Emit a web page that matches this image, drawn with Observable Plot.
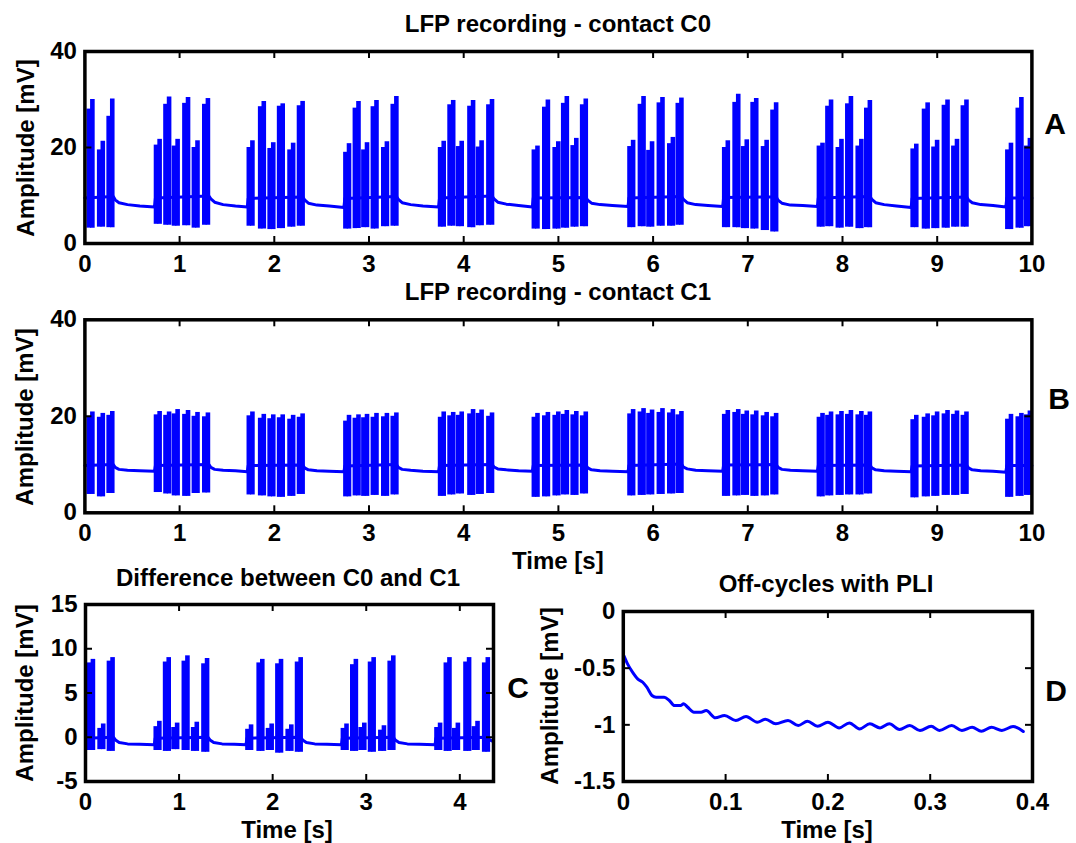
<!DOCTYPE html>
<html><head><meta charset="utf-8">
<script src="https://cdn.jsdelivr.net/npm/d3@7"></script>
<script src="https://cdn.jsdelivr.net/npm/@observablehq/plot@0.6"></script>
<style>
html,body{margin:0;padding:0;background:#fff;}
#page{position:relative;width:1076px;height:843px;overflow:hidden;background:#fff;font-family:"Liberation Sans",Arial,sans-serif;font-weight:bold;color:#000;}
.panel{position:absolute;}
.txt{position:absolute;white-space:nowrap;text-align:center;}
</style></head><body><div id="page"></div>
<script>
// ---------- data ----------
// centre time (s) of each spike group (bursts of 6 groups, first and last burst truncated)
const groupTime = [0.06,0.17,0.27,
 0.77,0.87,0.96,1.07,1.17,1.28,
 1.75,1.87,1.97,2.07,2.18,2.28,
 2.77,2.87,2.96,3.06,3.17,3.27,
 3.77,3.87,3.96,4.08,4.17,4.28,
 4.76,4.87,4.98,5.07,5.17,5.27,
 5.77,5.88,5.97,6.08,6.19,6.28,
 6.77,6.88,6.97,7.07,7.18,7.28,
 7.77,7.86,7.97,8.07,8.18,8.27,
 8.76,8.88,8.98,9.09,9.19,9.29,
 9.76,9.87,9.96];

// contact C0: first / second peak of each doublet and trough (mV)
const c0PeakFirst = [28.0,19.5,26.5,
 20.5,29.0,20.3,29.2,20.0,29.0,
 20.0,28.5,19.8,28.6,19.5,28.7,
 19.0,28.2,19.5,28.5,20.0,29.0,
 20.0,28.9,20.2,28.6,20.1,28.9,
 19.5,28.4,20.0,29.2,20.4,28.9,
 20.2,29.0,19.4,29.3,20.8,29.2,
 20.0,29.4,20.2,29.4,20.2,27.8,
 20.3,28.6,20.0,29.1,20.3,28.2,
 19.7,28.0,20.1,28.8,20.3,28.7,
 19.5,28.2,20.3];
const c0PeakSecond = [30.0,21.3,30.1,
 21.7,30.5,21.7,30.4,21.4,30.2,
 21.4,29.6,21.0,29.1,20.9,29.6,
 20.8,29.6,21.0,29.8,21.2,30.6,
 21.3,29.8,21.3,29.8,21.4,30.0,
 20.3,29.9,21.2,30.6,21.9,30.1,
 21.5,30.6,21.2,30.4,22.1,30.3,
 21.4,31.1,21.6,30.2,21.5,29.3,
 20.9,29.9,21.7,30.6,21.7,29.8,
 20.7,29.3,21.5,29.9,21.7,29.9,
 20.9,30.4,21.9];
const c0Trough = [3.2,3.4,3.3,
 4.0,3.8,3.6,3.7,3.2,3.8,
 3.6,3.0,2.9,3.1,3.4,3.6,
 3.0,3.1,3.3,3.0,3.5,3.6,
 3.4,3.6,3.5,3.3,3.7,3.8,
 3.0,2.9,3.0,3.2,3.4,3.5,
 3.3,3.5,3.4,3.6,3.6,3.8,
 3.3,3.3,3.1,3.0,2.7,2.4,
 3.4,3.5,3.2,3.4,3.1,3.3,
 3.3,3.0,3.1,3.2,3.4,3.4,
 2.9,3.2,3.5];
// contact C0 slow trace (time s, value mV)
const c0BaseTime = [0,0.30,0.32,0.36,0.45,0.58,0.735,0.745,
 1.31,1.33,1.37,1.46,1.59,1.715,1.725,
 2.30,2.32,2.36,2.45,2.58,2.735,2.745,
 3.29,3.31,3.35,3.44,3.57,3.735,3.745,
 4.30,4.32,4.36,4.45,4.58,4.725,4.735,
 5.29,5.31,5.35,5.44,5.57,5.735,5.745,
 6.30,6.32,6.36,6.45,6.58,6.735,6.745,
 7.30,7.32,7.36,7.45,7.58,7.735,7.745,
 8.29,8.31,8.35,8.44,8.57,8.725,8.735,
 9.31,9.33,9.37,9.46,9.59,9.725,9.735,10];
const c0BaseValue = [9.5,9.8,9.1,8.5,8.1,7.8,7.6,9.5,
 9.9,9.3,8.6,8.1,7.8,7.6,9.4,
 9.7,9.1,8.4,8.0,7.8,7.5,9.4,
 9.8,9.2,8.5,8.1,7.8,7.6,9.5,
 9.9,9.3,8.6,8.2,7.9,7.6,9.5,
 9.6,9.0,8.4,8.1,7.9,7.7,9.5,
 9.8,9.2,8.5,8.1,7.9,7.7,9.6,
 9.7,9.0,8.4,8.0,7.9,7.7,9.5,
 9.8,9.2,8.5,8.1,7.8,7.5,9.4,
 9.7,9.1,8.5,8.1,7.9,7.6,9.5,9.5];

// contact C1
const c1PeakFirst = [20.0,19.8,20.2,
 20.3,20.2,20.5,20.4,20.0,19.9,
 20.1,19.6,19.5,19.7,19.4,19.8,
 19.0,19.6,19.7,19.8,19.9,20.0,
 19.8,20.1,20.2,20.5,20.6,20.0,
 19.8,20.1,20.2,20.4,20.3,20.1,
 20.5,20.9,20.6,20.8,20.7,20.3,
 20.4,20.8,20.4,20.3,20.1,19.9,
 19.8,20.2,20.3,20.4,20.3,20.2,
 19.3,19.8,20.1,20.5,20.4,20.2,
 19.4,19.9,20.3];
const c1PeakSecond = [20.9,20.6,21.0,
 21.0,20.9,21.4,21.2,20.8,20.7,
 20.9,20.4,20.3,20.3,20.2,20.5,
 20.2,20.3,20.4,20.6,20.6,20.7,
 20.9,20.8,20.9,21.4,21.3,20.7,
 20.6,20.8,20.9,21.2,21.0,20.9,
 21.4,21.6,21.3,21.6,21.4,21.0,
 21.2,21.4,21.1,21.1,20.8,20.6,
 20.6,20.9,21.0,21.2,21.0,20.9,
 20.2,20.5,20.9,21.2,21.1,20.9,
 20.4,20.6,21.1];
const c1Trough = [3.8,3.3,4.0,
 4.2,3.9,3.5,3.4,4.0,4.1,
 3.7,3.5,3.3,3.2,3.4,3.8,
 3.3,3.5,3.4,3.6,3.4,3.7,
 3.4,3.7,3.9,3.6,3.8,4.0,
 3.2,3.3,3.5,3.7,3.6,3.9,
 3.5,3.6,3.7,3.8,3.9,4.0,
 3.4,3.5,3.6,3.4,3.5,3.7,
 3.3,3.5,3.6,3.7,3.7,3.9,
 3.1,3.3,3.4,3.6,3.6,3.8,
 3.2,3.4,3.6];
const c1BaseValue = [9.8,10.0,9.4,9.0,8.8,8.7,8.6,9.8,
 10.0,9.4,9.0,8.8,8.7,8.5,9.8,
 9.9,9.3,8.9,8.7,8.6,8.5,9.7,
 10.0,9.4,9.0,8.8,8.6,8.5,9.8,
 10.0,9.5,9.1,8.9,8.7,8.6,9.8,
 9.9,9.3,8.9,8.7,8.6,8.5,9.8,
 10.1,9.5,9.1,8.8,8.7,8.6,9.9,
 10.0,9.4,9.0,8.8,8.7,8.6,9.8,
 9.9,9.3,8.9,8.7,8.6,8.5,9.7,
 9.9,9.3,8.9,8.7,8.6,8.4,9.8,9.8];

// difference C0 - C1 (first 27 groups, 0 - 4.36 s)
const diffPeakFirst = [8.4,1.0,8.6, 1.2,8.5,1.1,8.6,1.1,8.3, 0.9,8.4,1.0,8.3,0.9,8.5,
 1.0,8.2,1.1,8.5,0.8,8.6, 1.1,8.4,1.0,8.5,1.2,8.4];
const diffPeakSecond = [8.8,1.5,9.0, 1.8,9.0,1.6,9.2,1.7,8.9, 1.4,8.8,1.5,8.8,1.4,9.0,
 1.5,8.8,1.6,9.0,1.3,9.2, 1.6,9.0,1.6,9.0,1.8,9.0];
const diffTrough = [-1.5,-1.4,-1.6, -1.5,-1.6,-1.4,-1.5,-1.6,-1.7, -1.5,-1.6,-1.5,-1.8,-1.6,-1.7,
 -1.5,-1.6,-1.5,-1.7,-1.6,-1.5, -1.5,-1.6,-1.5,-1.6,-1.5,-1.7];
const diffBaseTime = [0,0.30,0.32,0.36,0.45,0.58,0.735,0.745,
 1.31,1.33,1.37,1.46,1.59,1.715,1.725,
 2.30,2.32,2.36,2.45,2.58,2.735,2.745,
 3.29,3.31,3.35,3.44,3.57,3.735,3.745,
 4.30,4.32,4.36];
const diffBaseValue = [-0.1,0.0,-0.3,-0.6,-0.75,-0.8,-0.85,-0.1,
 0.0,-0.3,-0.6,-0.75,-0.8,-0.85,-0.1,
 0.0,-0.3,-0.6,-0.75,-0.8,-0.85,-0.1,
 0.0,-0.3,-0.6,-0.75,-0.8,-0.85,-0.1,
 0.0,-0.3,-0.5];

// off-cycle with power-line interference
const offTime = [0.0005,0.004,0.009,0.014,0.019,0.023,0.028,0.032,0.040,0.045,0.050,0.056,0.059,0.063,
 0.069,0.076,0.081,0.090,0.099,0.110,0.120,0.131,0.139,0.149,0.161,0.171,0.180,0.190,0.200,
 0.211,0.221,0.231,0.241,0.251,0.260,0.270,0.280,0.290,0.301,0.309,0.321,0.331,0.341,0.350,
 0.360,0.370,0.381,0.391];
const offValue = [-0.39,-0.46,-0.535,-0.594,-0.624,-0.668,-0.741,-0.756,-0.756,-0.785,-0.83,-0.83,-0.815,-0.845,
 -0.889,-0.889,-0.874,-0.938,-0.918,-0.962,-0.927,-0.977,-0.95,-0.991,-0.962,-1.006,-0.968,-1.012,-0.977,
 -1.027,-0.983,-1.036,-0.991,-1.027,-0.991,-1.041,-1.006,-1.05,-1.012,-1.05,-1.006,-1.05,-1.021,-1.056,
 -1.021,-1.05,-1.015,-1.059];

// ticks
const xTicksLFP = [0,1,2,3,4,5,6,7,8,9,10];
const yTicksLFP = [0,20,40];
const xTicksDiff = [0,1,2,3,4];
const yTicksDiff = [-5,0,5,10,15];
const xTicksOff = [0,0.1,0.2,0.3,0.4];
const yTicksOff = [-1.5,-1,-0.5,0];

// ---------- drawing ----------
const BLUE = "#0000ff";
const FONT = "'Liberation Sans', Arial, sans-serif";
const page = document.getElementById("page");

function rows(times, p1, p2, lo) {
  return p1.map((_, i) => ({t: times[i], p1: p1[i], p2: p2[i], lo: lo[i]}));
}
function line(times, values) { return times.map((t, i) => ({t, v: values[i]})); }
const fmt = d => String(d);
const TICK = 7;

function panel(pos, cfg) {
  const fw = pos.w - cfg.ml - cfg.mr;   // frame width (px)
  const fh = pos.h - cfg.mt - cfg.mb;   // frame height (px)
  const tk = {stroke: "#000", strokeWidth: 2};
  const chart = Plot.plot({
    width: pos.w, height: pos.h,
    marginLeft: cfg.ml, marginRight: cfg.mr, marginTop: cfg.mt, marginBottom: cfg.mb,
    x: {domain: cfg.xd, label: null},
    y: {domain: cfg.yd, label: null},
    style: {fontFamily: FONT, fontWeight: "bold", fontSize: "24px", color: "#000", background: "transparent", overflow: "visible"},
    marks: [
      ...cfg.marks,
      // inward tick marks on all four sides of the box
      Plot.ruleX(cfg.xt, {...tk, x: d => d, insetTop: fh - TICK}),
      Plot.ruleX(cfg.xt, {...tk, x: d => d, insetBottom: fh - TICK}),
      Plot.ruleY(cfg.yt, {...tk, y: d => d, insetRight: fw - TICK}),
      Plot.ruleY(cfg.yt, {...tk, y: d => d, insetLeft: fw - TICK}),
      Plot.frame({stroke: "#000", strokeWidth: 3.5}),
      Plot.axisX(cfg.xt, {label: null, anchor: "bottom", tickSize: 0, tickPadding: 11, tickFormat: fmt}),
      Plot.axisY(cfg.yt, {label: null, anchor: "left", tickSize: 0, tickPadding: 8, tickFormat: fmt})
    ]
  });
  const d = document.createElement("div");
  d.className = "panel";
  d.style.left = pos.x + "px"; d.style.top = pos.y + "px";
  d.style.width = pos.w + "px"; d.style.height = pos.h + "px";
  d.appendChild(chart);
  page.appendChild(d);
}

function spikeMarks(data) {
  return [
    Plot.ruleX(data, {x: "t", y1: "lo", y2: "p1", dx: -1.8, stroke: BLUE, strokeWidth: 4.6}),
    Plot.ruleX(data, {x: "t", y1: "lo", y2: "p2", dx: 1.8, stroke: BLUE, strokeWidth: 4.6})
  ];
}
const baseLine = data => Plot.line(data, {x: "t", y: "v", stroke: BLUE, strokeWidth: 3, strokeLinejoin: "round"});

const c0Rows = rows(groupTime, c0PeakFirst, c0PeakSecond, c0Trough);
const c1Rows = rows(groupTime, c1PeakFirst, c1PeakSecond, c1Trough);
const diffRows = rows(groupTime, diffPeakFirst, diffPeakSecond, diffTrough);

panel({x: 0, y: 0, w: 1076, h: 280}, {
  ml: 84.4, mr: 44.6, mt: 51, mb: 37, xd: [0, 10], yd: [0, 40], xt: xTicksLFP, yt: yTicksLFP,
  marks: [baseLine(line(c0BaseTime, c0BaseValue)), ...spikeMarks(c0Rows)]
});
panel({x: 0, y: 280, w: 1076, h: 280}, {
  ml: 84.4, mr: 44.6, mt: 39.3, mb: 47.7, xd: [0, 10], yd: [0, 40], xt: xTicksLFP, yt: yTicksLFP,
  marks: [baseLine(line(c0BaseTime, c1BaseValue)), ...spikeMarks(c1Rows)]
});
panel({x: 0, y: 560, w: 538, h: 283}, {
  ml: 85, mr: 45, mt: 44, mb: 62, xd: [0, 4.36], yd: [-5, 15], xt: xTicksDiff, yt: yTicksDiff,
  marks: [baseLine(line(diffBaseTime, diffBaseValue)), ...spikeMarks(diffRows)]
});
panel({x: 538, y: 560, w: 538, h: 283}, {
  ml: 84.8, mr: 44, mt: 51, mb: 62, xd: [0, 0.4], yd: [-1.5, 0], xt: xTicksOff, yt: yTicksOff,
  marks: [Plot.line(line(offTime, offValue), {x: "t", y: "v", stroke: BLUE, strokeWidth: 3, curve: "monotone-x"})]
});

// ---------- text ----------
function addText(str, cx, cy, size, rotate) {
  const W = 500;
  const d = document.createElement("div");
  d.className = "txt";
  d.textContent = str;
  d.style.fontSize = size + "px";
  d.style.lineHeight = size + "px";
  d.style.width = W + "px";
  d.style.left = (cx - W / 2) + "px";
  if (rotate) {
    d.style.top = (cy - size / 2) + "px";
    d.style.transform = "rotate(-90deg)";
    d.style.transformOrigin = "50% 50%";
  } else {
    d.style.top = (cy - 0.4885 * size) + "px";
  }
  page.appendChild(d);
}
addText("LFP recording - contact C0", 557.9, 23.7, 24);
addText("LFP recording - contact C1", 557.9, 292, 24);
addText("Difference between C0 and C1", 288, 578, 24);
addText("Off-cycles with PLI", 826, 583.3, 24);
addText("Time [s]", 557.9, 561, 24);
addText("Time [s]", 287, 830, 24);
addText("Time [s]", 827, 830, 24);
addText("Amplitude [mV]", 25.8, 147.5, 24, true);
addText("Amplitude [mV]", 25, 416.7, 24, true);
addText("Amplitude [mV]", 25, 692.5, 24, true);
addText("Amplitude [mV]", 550, 695.8, 24, true);
addText("A", 1055, 124, 30);
addText("B", 1059, 399, 30);
addText("C", 518, 687.5, 30);
addText("D", 1056, 691, 30);
</script></body></html>
